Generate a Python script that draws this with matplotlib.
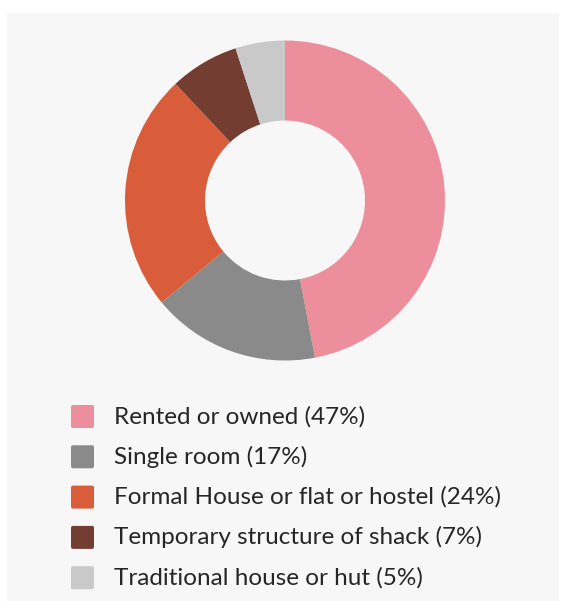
import matplotlib
matplotlib.use("Agg")
import matplotlib.pyplot as plt
from matplotlib.patches import Rectangle, FancyBboxPatch

labels = ["Rented or owned", "Single room", "Formal House or flat or hostel",
          "Temporary structure of shack", "Traditional house or hut"]
values = [47, 17, 24, 7, 5]
colors = ["#ec8e9b", "#8a8a8a", "#d95c3b", "#733d31", "#c9c9c9"]

W, H = 561, 601
fig = plt.figure(figsize=(W / 100, H / 100), dpi=100)
fig.patch.set_facecolor("white")

# background panel
bg = fig.add_axes([0, 0, 1, 1])
bg.set_xlim(0, W)
bg.set_ylim(H, 0)
bg.axis("off")
bg.add_patch(Rectangle((7, 13), 552, 590, facecolor="#f7f7f7", edgecolor="none"))

# donut
cx, cy, r = 285, 200.5, 160
ax = fig.add_axes([(cx - r) / W, (H - cy - r) / H, 2 * r / W, 2 * r / H])
ax.pie(values, colors=colors, startangle=90, counterclock=False, radius=1,
       wedgeprops=dict(width=0.5, edgecolor="none"))
ax.set_xlim(-1, 1)
ax.set_ylim(-1, 1)
ax.set_aspect("auto")
ax.axis("off")

# legend
lg = fig.add_axes([0, 0, 1, 1])
lg.set_xlim(0, W)
lg.set_ylim(H, 0)
lg.axis("off")
y0, dy = 416.5, 40.3
for i, (lab, v, c) in enumerate(zip(labels, values, colors)):
    y = y0 + i * dy
    lg.add_patch(FancyBboxPatch((71, y - 11.5), 23, 23,
                                boxstyle="round,pad=0,rounding_size=2",
                                facecolor=c, edgecolor="none"))
    lg.text(114.5, y, f"{lab} ({v}%)", fontsize=17.5, family=["Lato", "DejaVu Sans"],
            color="#262626", va="center", ha="left")

fig.savefig("out.png", dpi=100, facecolor=fig.get_facecolor())
